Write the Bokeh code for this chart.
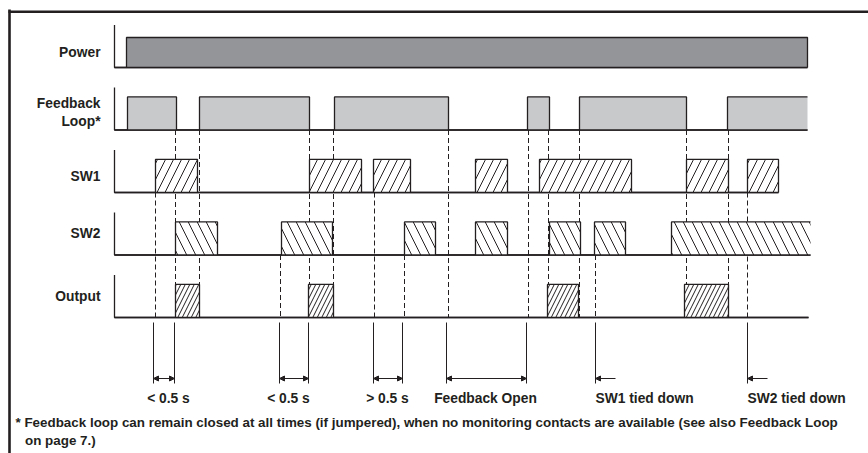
from bokeh.plotting import figure
from bokeh.models import Range1d, ColumnDataSource, Arrow, NormalHead
from bokeh.embed import file_html
from bokeh.resources import INLINE
from bokeh.core.properties import value

# ---------------- data (time in arbitrary units, rows as levels) ----------------
row_labels = [["Power"], ["Feedback", "Loop*"], ["SW1"], ["SW2"], ["Output"]]
row_base = [4, 3, 2, 1, 0]

power_on = [1.2]
power_off = [69.3]
fb_on = [1.3, 8.5, 22.0, 41.3, 46.5, 61.3]
fb_off = [6.2, 19.5, 33.4, 43.5, 57.2, 69.3]
sw1_on = [4.1, 19.5, 25.9, 36.1, 42.5, 57.2, 63.3]
sw1_off = [8.3, 24.7, 29.6, 39.3, 51.7, 61.4, 66.4]
sw2_on = [6.1, 16.7, 29.0, 36.1, 43.5, 48.0, 55.7]
sw2_off = [10.3, 21.8, 32.1, 39.3, 46.6, 51.1, 69.6]
out_on = [6.1, 19.4, 43.3, 57.0]
out_off = [8.5, 21.9, 46.4, 61.4]
trace_end = [69.3, 69.3, 66.4, 69.6, 69.4]

fb_events = [6.1, 8.5, 19.5, 21.9, 33.4, 41.4, 43.4, 46.5, 57.2, 61.4]
sw1_events = [4.1, 26.0, 63.3]
sw2_events = [16.6, 29.0, 48.1]

meas_start = [3.9, 16.5, 25.9, 33.2]
meas_end = [6.0, 19.4, 28.8, 41.2]
meas_labels = ["< 0.5 s", "< 0.5 s", "> 0.5 s", "Feedback Open"]
meas_label_x = [5.4, 17.4, 27.3, 37.1]
tied_at = [48.1, 63.3]
tied_labels = ["SW1 tied down", "SW2 tied down"]

footnote = ["* Feedback loop can remain closed at all times (if jumpered), when no monitoring contacts are available (see also Feedback Loop",
            "on page 7.)"]

# ---------------- figure ----------------
W, H = 868, 453
p = figure(width=W, height=H, output_backend="svg", toolbar_location=None,
           x_range=Range1d(-11.4, 75.4), y_range=Range1d(-2.176, 5.072),
           min_border=0, outline_line_color=None)
p.axis.visible = False
p.grid.visible = False
p.background_fill_color = "white"

INK = "#231f20"
FONT = value("Liberation Sans")
HI = 0.53
AX_TOP = 0.68
FS = "13.8px"

# frame (left and top rule)
p.segment(x0=[-10.5], y0=[4.93], x1=[-10.5], y1=[-2.3], line_color=INK, line_width=2.6)
p.segment(x0=[-10.6], y0=[4.891], x1=[76], y1=[4.891], line_color=INK, line_width=2.6)

# dashed event lines (drawn first, boxes cover them)
def dashed(events, from_level):
    p.segment(x0=events, y0=[from_level] * len(events), x1=events, y1=[0] * len(events),
              line_color=INK, line_width=1, line_dash="5 3")

dashed(fb_events, 3)
dashed(sw1_events, 2)
dashed(sw2_events, 1)

# axes of each trace
for b, end in zip(row_base, trace_end):
    p.line([0, 0, end], [b + AX_TOP, b, b], line_color=INK, line_width=1.3)

def boxes(on, off, base, top_h, fill, hatch=None, scale=12, open_last=False):
    src = ColumnDataSource(dict(l=on, r=off, b=[base] * len(on), t=[base + top_h] * len(on)))
    kw = {}
    if hatch:
        kw = dict(hatch_pattern=hatch, hatch_scale=scale, hatch_weight=1, hatch_color=INK)
    p.quad(left="l", right="r", bottom="b", top="t", source=src, fill_color=fill,
           line_alpha=0, **kw)
    xs, ys = [], []
    for i, (a, z) in enumerate(zip(on, off)):
        if open_last and i == len(on) - 1:
            xs.append([a, a, z]); ys.append([base, base + top_h, base + top_h])
        else:
            xs.append([a, a, z, z]); ys.append([base, base + top_h, base + top_h, base])
    p.multi_line(xs, ys, line_color=INK, line_width=1.3)

boxes(power_on, power_off, 4, 0.48, "#939598")
boxes(fb_on, fb_off, 3, HI, "#c8c9cb", open_last=True)
boxes(sw1_on, sw1_off, 2, HI, "white", hatch="/", scale=16)
boxes(sw2_on, sw2_off, 1, HI, "white", hatch="\\", scale=18, open_last=True)
boxes(out_on, out_off, 0, HI, "white", hatch="/", scale=9)

# re-draw baselines on top
for b, end in zip(row_base, trace_end):
    p.line([0, end], [b, b], line_color=INK, line_width=1.3)

# row labels
label_off = [[0.245], [0.419, 0.136], [0.261], [0.349], [0.341]]
lx, ly, lt = [], [], []
for lines, b, offs in zip(row_labels, row_base, label_off):
    for t, o in zip(lines, offs):
        lx.append(-1.4); ly.append(b + o); lt.append(t)
p.text(x=lx, y=ly, text=lt, text_font=FONT, text_font_style="bold", text_font_size=FS,
       text_align="right", text_baseline="middle", text_color=INK)

# measurement annotations
LINE_TOP, LINE_BOT, ARR_Y, LAB_Y = -0.08, -1.056, -0.976, -1.296
vx = meas_start + meas_end + tied_at
p.segment(x0=vx, y0=[LINE_TOP] * len(vx), x1=vx, y1=[LINE_BOT] * len(vx), line_color=INK, line_width=1)
for a, z in zip(meas_start, meas_end):
    p.add_layout(Arrow(start=NormalHead(size=5, fill_color=INK, line_color=INK),
                       end=NormalHead(size=5, fill_color=INK, line_color=INK),
                       x_start=a, y_start=ARR_Y, x_end=z, y_end=ARR_Y, line_color=INK, line_width=1))
for a in tied_at:
    p.add_layout(Arrow(end=NormalHead(size=5, fill_color=INK, line_color=INK),
                       x_start=a + 2.0, y_start=ARR_Y, x_end=a, y_end=ARR_Y, line_color=INK, line_width=1))
p.text(x=meas_label_x, y=[LAB_Y] * len(meas_labels), text=meas_labels, text_font=FONT,
       text_font_style="bold", text_font_size=FS, text_align="center", text_baseline="middle",
       text_color=INK)
p.text(x=tied_at, y=[LAB_Y] * len(tied_at), text=tied_labels, text_font=FONT,
       text_font_style="bold", text_font_size=FS, text_align="left", text_baseline="middle",
       text_color=INK)

# footnote
p.text(x=[-9.9, -8.95], y=[-1.68, -1.968], text=footnote, text_font=FONT,
       text_font_style="bold", text_font_size="13.4px", text_align="left", text_baseline="middle",
       text_color=INK)

open("out.html", "w").write(file_html(p, INLINE))
